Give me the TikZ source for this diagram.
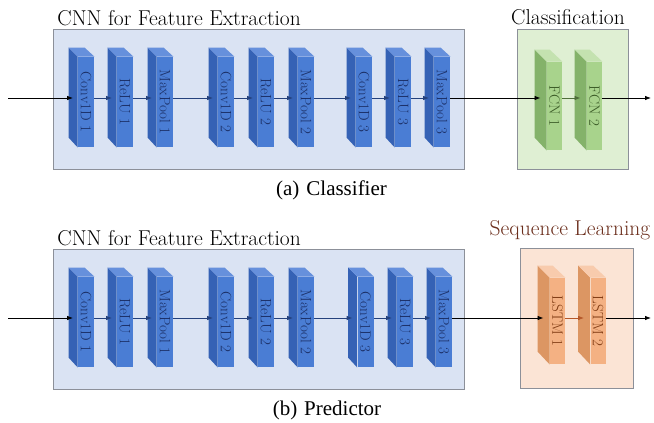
\documentclass[tikz,border=0pt]{standalone}
\usepackage{fontspec}
\usepackage{graphicx}
\newfontfamily\capfont{Liberation Serif}
\usetikzlibrary{arrows.meta}

\definecolor{cnnfill}{HTML}{DAE3F3}
\definecolor{boxline}{HTML}{8C9099}
\definecolor{bluefront}{HTML}{4A7DD4}
\definecolor{blueside}{HTML}{3562B5}
\definecolor{bluetop}{HTML}{6690DC}
\definecolor{bluetext}{HTML}{1B2F66}
\definecolor{bluearrow}{HTML}{24417C}
\definecolor{fcnfill}{HTML}{DFEFD3}
\definecolor{greenfront}{HTML}{A8D38C}
\definecolor{greenside}{HTML}{84B26A}
\definecolor{greentop}{HTML}{C4E2B0}
\definecolor{greentext}{HTML}{3A5A26}
\definecolor{greenarrow}{HTML}{4F6E3B}
\definecolor{lstmfill}{HTML}{FBE4D5}
\definecolor{orangefront}{HTML}{F4B183}
\definecolor{orangeside}{HTML}{DC9663}
\definecolor{orangetop}{HTML}{F8CBAD}
\definecolor{orangetext}{HTML}{7F3A12}
\definecolor{orangearrow}{HTML}{B5582A}
\definecolor{seqtitle}{HTML}{6B2E1C}

\newcommand{\vlabel}[1]{\rotatebox{-90}{#1}}

\tikzset{
  groupbox/.style={draw=boxline, line width=0.6pt, inner sep=0pt},
  titletext/.style={inner sep=0pt, font=\fontsize{21.5}{24}\selectfont},
  slab/.style={inner sep=0pt, minimum width=16pt, minimum height=90pt, font=\fontsize{15}{17}\selectfont},
  blueslab/.style={slab, fill=bluefront, text=bluetext},
  greenslab/.style={slab, fill=greenfront, text=greentext, minimum width=15pt, minimum height=88pt},
  orangeslab/.style={slab, fill=orangefront, text=orangetext, minimum width=15pt, minimum height=86pt},
  caption/.style={inner sep=0pt, font=\capfont\fontsize{21}{24}\selectfont},
}

\begin{document}
\begin{tikzpicture}[x=1pt,y=1pt,>={Latex[length=6pt,width=4.5pt]},line width=0.8pt]
\useasboundingbox (0,0) rectangle (654,423);

% (a) classifier
\node(cnna) at (258.5,324)[groupbox,fill=cnnfill,minimum width=411pt,minimum height=140pt] {};
\node(fcnbox) at (572.5,324)[groupbox,fill=fcnfill,minimum width=111pt,minimum height=140pt] {};
\node(cnnatitle) at (57,397)[titletext,anchor=base west] {CNN for Feature Extraction};
\node(fcntitle) at (568,398)[titletext,anchor=base] {Classification};

\node(conv1a) at (86,321)[blueslab]  {\vlabel{Conv1D 1}};
\node(relu1a) at (125,321)[blueslab] {\vlabel{ReLU 1}};
\node(pool1a) at (165,321)[blueslab] {\vlabel{MaxPool 1}};
\node(conv2a) at (226,321)[blueslab] {\vlabel{Conv1D 2}};
\node(relu2a) at (266,321)[blueslab] {\vlabel{ReLU 2}};
\node(pool2a) at (306,321)[blueslab] {\vlabel{MaxPool 2}};
\node(conv3a) at (364,321)[blueslab] {\vlabel{Conv1D 3}};
\node(relu3a) at (403,321)[blueslab] {\vlabel{ReLU 3}};
\node(pool3a) at (442,321)[blueslab] {\vlabel{MaxPool 3}};
\node(fcn1) at (554.5,317)[greenslab] {\vlabel{FCN 1}};
\node(fcn2) at (594.5,317)[greenslab] {\vlabel{FCN 2}};

% (b) predictor
\node(cnnb) at (258.5,104)[groupbox,fill=cnnfill,minimum width=411pt,minimum height=140pt] {};
\node(lstmbox) at (576.5,105)[groupbox,fill=lstmfill,minimum width=113pt,minimum height=140pt] {};
\node(cnnbtitle) at (57,177)[titletext,anchor=base west] {CNN for Feature Extraction};
\node(lstmtitle) at (570,187)[titletext,anchor=base,text=seqtitle] {Sequence Learning};

\node(conv1b) at (86,101)[blueslab]    {\vlabel{Conv1D 1}};
\node(relu1b) at (125,101)[blueslab]   {\vlabel{ReLU 1}};
\node(pool1b) at (165,101)[blueslab]   {\vlabel{MaxPool 1}};
\node(conv2b) at (226,101)[blueslab]   {\vlabel{Conv1D 2}};
\node(relu2b) at (266,101)[blueslab]   {\vlabel{ReLU 2}};
\node(pool2b) at (306,101)[blueslab]   {\vlabel{MaxPool 2}};
\node(conv3b) at (365.5,101)[blueslab] {\vlabel{Conv1D 3}};
\node(relu3b) at (405,101)[blueslab]   {\vlabel{ReLU 3}};
\node(pool3b) at (444,101)[blueslab]   {\vlabel{MaxPool 3}};
\node(lstm1) at (557.5,102)[orangeslab] {\vlabel{LSTM 1}};
\node(lstm2) at (598,102)[orangeslab]   {\vlabel{LSTM 2}};

% side and top faces
\foreach \n in {conv1a,relu1a,pool1a,conv2a,relu2a,pool2a,conv3a,relu3a,pool3a,
                conv1b,relu1b,pool1b,conv2b,relu2b,pool2b,conv3b,relu3b,pool3b}{
  \fill[blueside] (\n.north west) -- ++(-9,9) -- ++(0,-90) -- (\n.south west) -- cycle;
  \fill[bluetop] (\n.north west) -- ++(-9,9) -- ++(16,0) -- (\n.north east) -- cycle;
}
\foreach \n in {fcn1,fcn2}{
  \fill[greenside] (\n.north west) -- ++(-12,12) -- ++(0,-88) -- (\n.south west) -- cycle;
  \fill[greentop] (\n.north west) -- ++(-12,12) -- ++(15,0) -- (\n.north east) -- cycle;
}
\foreach \n in {lstm1,lstm2}{
  \fill[orangeside] (\n.north west) -- ++(-12,12) -- ++(0,-86) -- (\n.south west) -- cycle;
  \fill[orangetop] (\n.north west) -- ++(-12,12) -- ++(15,0) -- (\n.north east) -- cycle;
}

\coordinate(rowa) at (0,325);
\coordinate(ina) at (8,325);
\coordinate(outa) at (651,325);
\coordinate(rowb) at (0,105);
\coordinate(inb) at (8,105);
\coordinate(outb) at (651,105);

\path [->]
  (ina)                   edge              ([xshift=-4.5pt]conv1a.west |- rowa)
  (conv1a.east |- rowa)   edge [bluearrow]  ([xshift=-4.5pt]relu1a.west |- rowa)
  (relu1a.east |- rowa)   edge [bluearrow]  ([xshift=-4.5pt]pool1a.west |- rowa)
  (pool1a.east |- rowa)   edge [bluearrow]  ([xshift=-4.5pt]conv2a.west |- rowa)
  (conv2a.east |- rowa)   edge [bluearrow]  ([xshift=-4.5pt]relu2a.west |- rowa)
  (relu2a.east |- rowa)   edge [bluearrow]  ([xshift=-4.5pt]pool2a.west |- rowa)
  (pool2a.east |- rowa)   edge [bluearrow]  ([xshift=-4.5pt]conv3a.west |- rowa)
  (conv3a.east |- rowa)   edge [bluearrow]  ([xshift=-4.5pt]relu3a.west |- rowa)
  (relu3a.east |- rowa)   edge [bluearrow]  ([xshift=-4.5pt]pool3a.west |- rowa)
  (pool3a.east |- rowa)   edge              ([xshift=-6pt]fcn1.west |- rowa)
  (fcn1.east |- rowa)     edge [greenarrow] ([xshift=-6pt]fcn2.west |- rowa)
  (fcn2.east |- rowa)     edge              (outa);

\path [->]
  (inb)                   edge               ([xshift=-4.5pt]conv1b.west |- rowb)
  (conv1b.east |- rowb)   edge [bluearrow]   ([xshift=-4.5pt]relu1b.west |- rowb)
  (relu1b.east |- rowb)   edge [bluearrow]   ([xshift=-4.5pt]pool1b.west |- rowb)
  (pool1b.east |- rowb)   edge [bluearrow]   ([xshift=-4.5pt]conv2b.west |- rowb)
  (conv2b.east |- rowb)   edge [bluearrow]   ([xshift=-4.5pt]relu2b.west |- rowb)
  (relu2b.east |- rowb)   edge [bluearrow]   ([xshift=-4.5pt]pool2b.west |- rowb)
  (pool2b.east |- rowb)   edge [bluearrow]   ([xshift=-4.5pt]conv3b.west |- rowb)
  (conv3b.east |- rowb)   edge [bluearrow]   ([xshift=-4.5pt]relu3b.west |- rowb)
  (relu3b.east |- rowb)   edge [bluearrow]   ([xshift=-4.5pt]pool3b.west |- rowb)
  (pool3b.east |- rowb)   edge               ([xshift=-6pt]lstm1.west |- rowb)
  (lstm1.east |- rowb)    edge [orangearrow] ([xshift=-6pt]lstm2.west |- rowb)
  (lstm2.east |- rowb)    edge               (outb);

% captions
\node(capa) at (331.5,227)[caption,anchor=base] {(a)\hspace{7pt}Classifier};
\node(capb) at (327,7)[caption,anchor=base] {(b)\hspace{7pt}Predictor};

\end{tikzpicture}
\end{document}
